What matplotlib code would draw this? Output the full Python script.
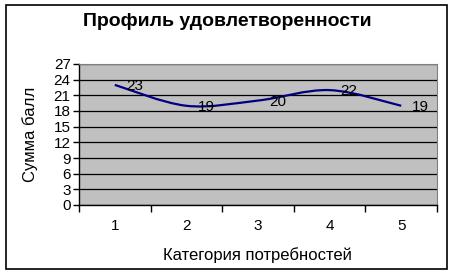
import matplotlib
matplotlib.use("Agg")
import matplotlib.pyplot as plt
from matplotlib.path import Path
from matplotlib.patches import PathPatch, Rectangle
import numpy as np

categories = [1, 2, 3, 4, 5]
values = [23, 19, 20, 22, 19]
title = "Профиль удовлетворенности"
xlabel = "Категория потребностей"
ylabel = "Сумма балл"

plt.rcParams['font.family'] = ['Liberation Sans', 'DejaVu Sans']

fig = plt.figure(figsize=(4.54, 2.74), dpi=100)
fig.patch.set_facecolor('white')
# figure border
fig.patches.append(Rectangle((6/454, 5/274), (447-6)/454, (269-5)/274,
                             transform=fig.transFigure, fill=False,
                             edgecolor='black', linewidth=1.2))

ax = fig.add_axes([79/454, (274-205)/274, (437-79)/454, (205-64)/274])
ax.set_facecolor('#C0C0C0')
ax.set_xlim(0.5, 5.5)
ax.set_ylim(0, 27)
ax.set_yticks(np.arange(0, 28, 3))
ax.yaxis.grid(True, color='black', linewidth=0.9)
ax.set_axisbelow(True)

# category axis: ticks between categories, labels at centers
ax.set_xticks(np.arange(0.5, 5.6, 1.0))
ax.set_xticklabels([])
ax.set_xticks(categories, minor=True)
ax.set_xticklabels([str(c) for c in categories], minor=True)
ax.tick_params(axis='x', which='minor', length=0, pad=10, labelsize=11)
ax.tick_params(axis='x', which='major', length=5, direction='out', width=1)
ax.tick_params(axis='y', length=4, direction='out', width=1, labelsize=11, pad=2)

for s in ['top', 'right']:
    ax.spines[s].set_color('#808080')
    ax.spines[s].set_linewidth(0.8)
for s in ['left', 'bottom']:
    ax.spines[s].set_color('black')
    ax.spines[s].set_linewidth(1)

# smoothed line (Bezier through data points)
xs = np.array(categories, dtype=float)
ys = np.array(values, dtype=float)
n = len(xs)
verts = [(xs[0], ys[0])]
codes = [Path.MOVETO]
t = 1/6
for i in range(n - 1):
    p0 = (xs[max(i-1, 0)], ys[max(i-1, 0)])
    p1 = (xs[i], ys[i])
    p2 = (xs[i+1], ys[i+1])
    p3 = (xs[min(i+2, n-1)], ys[min(i+2, n-1)])
    c1 = (p1[0] + t*(p2[0]-p0[0]), p1[1] + t*(p2[1]-p0[1]))
    c2 = (p2[0] - t*(p3[0]-p1[0]), p2[1] - t*(p3[1]-p1[1]))
    verts += [c1, c2, p2]
    codes += [Path.CURVE4]*3
ax.add_patch(PathPatch(Path(verts, codes), fill=False, edgecolor='#000080',
                       linewidth=1.6, zorder=3))

for x, y in zip(categories, values):
    ax.annotate(str(y), (x, y), xytext=(8, -1), textcoords='offset points',
                va='center', ha='left', fontsize=11, zorder=4)

fig.text(227/454, 1 - 22/274, title, ha='center', va='center',
         fontsize=14, fontweight='bold')
fig.text(257/454, 1 - 255/274, xlabel, ha='center', va='center', fontsize=12)
fig.text(30/454, 1 - 134/274, ylabel, ha='center', va='center', fontsize=12,
         rotation=90)

fig.savefig('out.png', dpi=100)
